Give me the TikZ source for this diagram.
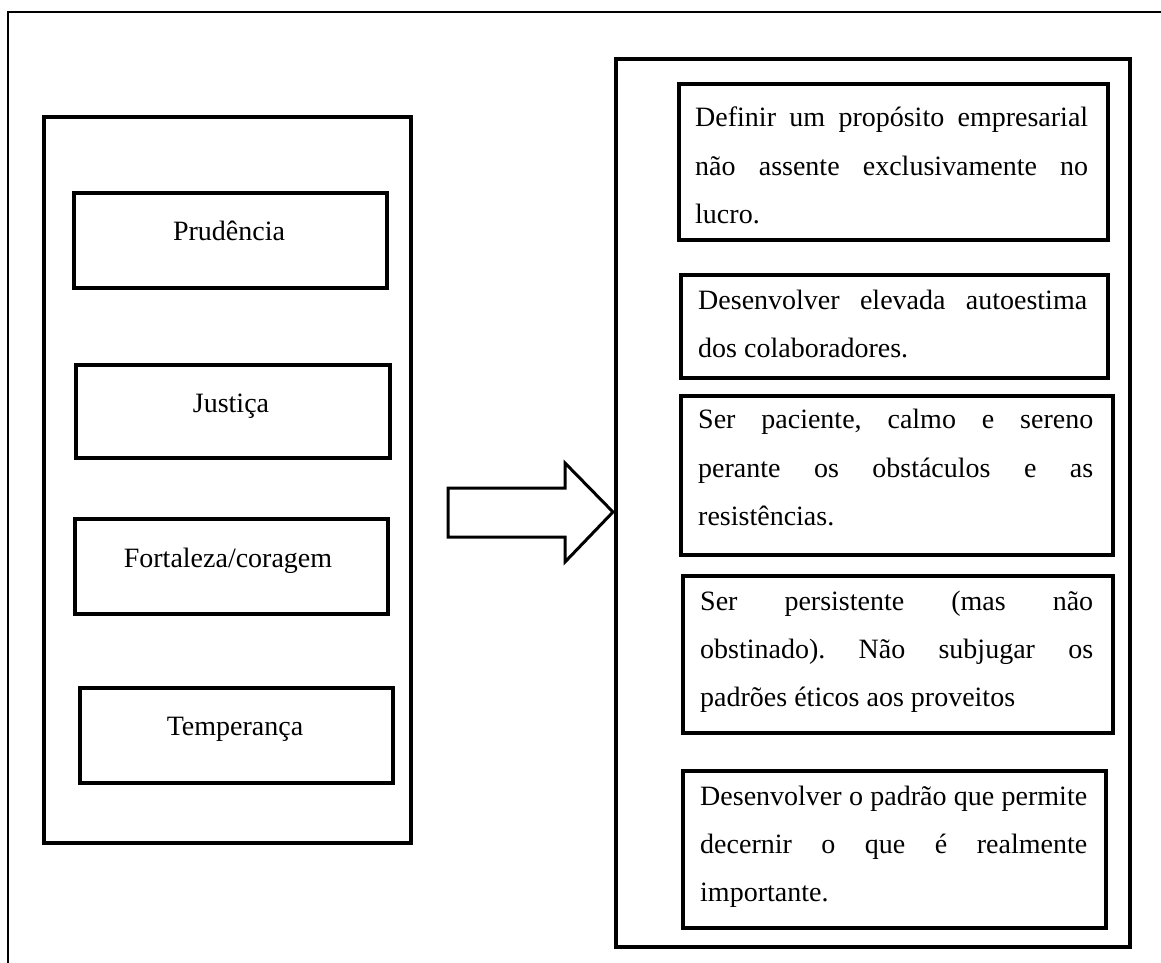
\documentclass[tikz,border=0pt]{standalone}
\usepackage{fontspec}
\setmainfont{Liberation Serif}
\frenchspacing
\begin{document}
\begin{tikzpicture}[x=1pt,y=-1pt,
  frame/.style={draw, line width=1.5pt},
  bigbox/.style={draw, line width=4pt, anchor=north west, inner sep=0pt},
  box/.style={draw, line width=4pt, anchor=north west, inner sep=0pt},
  lbl/.style={anchor=base, inner sep=0pt, font=\fontsize{28}{34}\selectfont},
  txt/.style={anchor=base west, inner sep=0pt, font=\fontsize{28}{34}\selectfont},
  bigarrow/.style={draw, line width=3pt, line join=miter, fill=white}]
\useasboundingbox (0,0) rectangle (1161,963);
% outer frame (top and left only)
\coordinate (fa) at (8,963);
\coordinate (fb) at (8,12);
\coordinate (fc) at (1161,12);
\draw[frame] (fa) -- (fb) -- (fc);
% left column
\node[bigbox, minimum width=367pt, minimum height=726pt] (left) at (42,115) {};
\node[box, minimum width=313pt, minimum height=95pt] (b1) at (72,191) {};
\node[box, minimum width=314pt, minimum height=93pt] (b2) at (74,363) {};
\node[box, minimum width=313pt, minimum height=95pt] (b3) at (73,517) {};
\node[box, minimum width=313pt, minimum height=95pt] (b4) at (78,686) {};
\node[lbl] (t1) at (229,240) {Prudência};
\node[lbl] (t2) at (231,412) {Justiça};
\node[lbl] (t3) at (228,567) {Fortaleza/coragem};
\node[lbl] (t4) at (235,735) {Temperança};
% arrow
\coordinate (a1) at (448,488);
\coordinate (a2) at (565,488);
\coordinate (a3) at (565,463);
\coordinate (a4) at (613,512);
\coordinate (a5) at (565,562);
\coordinate (a6) at (565,537);
\coordinate (a7) at (448,537);
\draw[bigarrow] (a1) -- (a2) -- (a3) -- (a4) -- (a5) -- (a6) -- (a7) -- cycle;
% right column
\node[bigbox, minimum width=514pt, minimum height=888pt] (right) at (614,57) {};
\node[box, minimum width=429pt, minimum height=156pt] (r1) at (677,82) {};
\node[box, minimum width=427pt, minimum height=103pt] (r2) at (679,273) {};
\node[box, minimum width=432pt, minimum height=159pt] (r3) at (679,394) {};
\node[box, minimum width=430pt, minimum height=157pt] (r4) at (681,574) {};
\node[box, minimum width=423pt, minimum height=157pt] (r5) at (681,769) {};
% texts right
\node[txt] (r1a) at (695,127) {\makebox[393pt][s]{Definir um propósito empresarial}};
\node[txt] (r1b) at (695,175) {\makebox[393pt][s]{não assente exclusivamente no}};
\node[txt] (r1c) at (695,223) {lucro.};
\node[txt] (r2a) at (698,309) {\makebox[389pt][s]{Desenvolver elevada autoestima}};
\node[txt] (r2b) at (698,357) {dos colaboradores.};
\node[txt] (r3a) at (698,428) {\makebox[395pt][s]{Ser paciente, calmo e sereno}};
\node[txt] (r3b) at (698,477) {\makebox[395pt][s]{perante os obstáculos e as}};
\node[txt] (r3c) at (698,525) {resistências.};
\node[txt] (r4a) at (700,610) {\makebox[393pt][s]{Ser persistente (mas não}};
\node[txt] (r4b) at (700,658) {\makebox[393pt][s]{obstinado). Não subjugar os}};
\node[txt] (r4c) at (700,706) {padrões éticos aos proveitos};
\node[txt] (r5a) at (700,805) {\makebox[387pt][s]{Desenvolver o padrão que permite}};
\node[txt] (r5b) at (700,853) {\makebox[387pt][s]{decernir o que é realmente}};
\node[txt] (r5c) at (700,901) {importante.};
\end{tikzpicture}
\end{document}
